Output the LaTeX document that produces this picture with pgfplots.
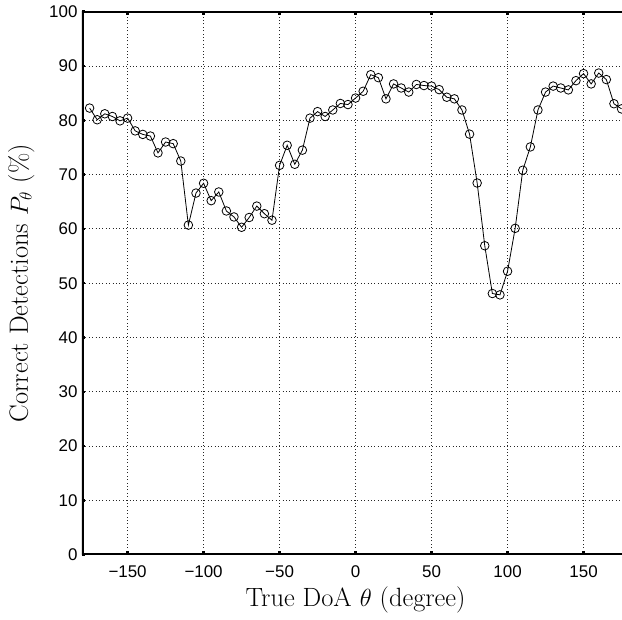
\documentclass[border=0pt]{standalone}
\usepackage{fontspec}
\usepackage{pgfplots}
\pgfplotsset{compat=1.18}
\newfontfamily\ticksf{Liberation Sans}

\pgfplotstableread{
x y
-175 82.25
-170 80.1
-165 81.2
-160 80.7
-155 79.9
-150 80.4
-145 78.05
-140 77.4
-135 77.1
-130 74.0
-125 76.0
-120 75.7
-115 72.5
-110 60.7
-105 66.6
-100 68.4
-95 65.2
-90 66.8
-85 63.3
-80 62.2
-75 60.3
-70 62.1
-65 64.2
-60 62.8
-55 61.6
-50 71.7
-45 75.4
-40 71.9
-35 74.5
-30 80.4
-25 81.6
-20 80.7
-15 81.9
-10 83.1
-5 82.9
0 84.1
5 85.35
10 88.4
15 87.85
20 83.95
25 86.7
30 85.95
35 85.2
40 86.6
45 86.4
50 86.3
55 85.65
60 84.25
65 83.95
70 81.9
75 77.45
80 68.45
85 56.9
90 48.1
95 47.85
100 52.2
105 60.1
110 70.8
115 75.1
120 81.9
125 85.2
130 86.3
135 85.95
140 85.6
145 87.3
150 88.6
155 86.7
160 88.7
165 87.5
170 83.05
175 82.1
}\datatable

\begin{document}
\begin{tikzpicture}
\begin{axis}[
  scale only axis,
  width=540bp, height=543bp,
  xmin=-180, xmax=175.3, ymin=0, ymax=100,
  axis line style={draw=none},
  xtick={-150,-100,-50,0,50,100,150},
  xticklabels={−150,−100,−50,0,50,100,150},
  ytick={0,10,20,30,40,50,60,70,80,90,100},
  yticklabels={0,10,20,30,40,50,60,70,80,90,100},
  xtick pos=both, ytick pos=left,
  tick align=inside,
  major tick length=3.5bp,
  tick style={black, line width=2.5bp},
  ticklabel style={font=\fontsize{17}{19}\ticksf},
  xticklabel style={yshift=-7bp},
  yticklabel style={xshift=-1bp},
  grid=major,
  major grid style={black!85, line width=0.8bp, dash pattern=on 0.8bp off 2.6bp},
  xlabel={True DoA $\theta$ (degree)},
  ylabel={Correct Detections $P_\theta$ (\%)},
  xlabel style={font=\fontsize{26.5}{30}\selectfont, at={([yshift=-52bp]axis cs:0,0)}, anchor=base},
  ylabel style={font=\fontsize{26.5}{30}\selectfont, at={([xshift=-54bp]rel axis cs:0,0.5)}, anchor=base},
  clip marker paths=true,
]
\addplot[black, line width=0.8bp, mark=o, mark size=4.3bp, mark options={line width=0.8bp}] table[x=x, y=y] {\datatable};
\draw[black, line width=3.5bp, line join=miter] (rel axis cs:1,1) -- (rel axis cs:0,1) -- (rel axis cs:0,0) -- (rel axis cs:1,0);
\end{axis}
\pgfresetboundingbox
\useasboundingbox ([xshift=-82bp,yshift=-65.3bp]current axis.south west) rectangle ([yshift=11.7bp]current axis.north east);
\end{tikzpicture}
\end{document}
